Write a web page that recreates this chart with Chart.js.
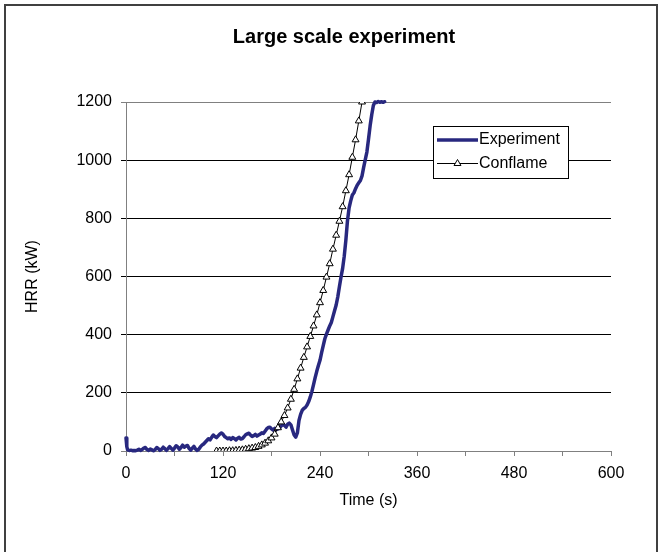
<!DOCTYPE html>
<html>
<head>
<meta charset="utf-8">
<script src="https://cdn.jsdelivr.net/npm/chart.js@4.4.1/dist/chart.umd.min.js"></script>
<style>
  html, body { margin: 0; padding: 0; background: #ffffff; }
  #wrap { position: relative; width: 663px; height: 552px; }
  canvas { display: block; }
</style>
</head>
<body>
<div id="wrap"><canvas id="c" width="663" height="552"></canvas></div>
<script>
// ---- Data ----
const chartTitle = "Large scale experiment";
const xAxisTitle = "Time (s)";
const yAxisTitle = "HRR (kW)";
const seriesNames = ["Experiment", "Conflame"];

const xTickLabels = [0, 120, 240, 360, 480, 600];
const yTickLabels = [0, 200, 400, 600, 800, 1000, 1200];

const expTime = [0,1,2,4,6,8,10,12,14,16,18,20,22,24,26,28,30,32,34,36,38,40,42,44,46,48,50,52,54,56,58,60,62,64,66,68,70,72,74,76,78,80,82,84,86,88,90,92,94,96,98,100,102,104,106,108,110,112,114,116,118,120,122,124,126,128,130,132,134,136,138,140,142,144,146,148,150,152,154,156,158,160,162,164,166,168,170,172,174,176,178,180,182,184,186,188,190,192,194,196,198,200,202,204,206,208,210,212,214,216,218,220,222,224,226,228,230,232,234,236,238,240,242,244,246,248,250,252,254,256,258,260,262,264,266,268,270,272,274,276,278,280,282,284,286,288,290,292,294,296,298,300,302,304,306,308,310,312,314,316,318,320];
const expHRR  = [45,15,4,2,3,1,2,1,3,6,2,5,10,12,5,2,7,4,1,5,12,8,2,6,13,8,2,8,15,9,3,10,18,14,6,12,20,13,17,19,9,3,10,16,7,2,6,14,20,24,30,36,42,38,47,55,50,46,52,58,62,58,50,46,42,45,40,46,43,38,44,47,41,43,49,56,59,61,55,50,53,57,51,55,58,63,60,68,76,81,82,76,72,78,74,76,79,86,91,88,82,92,96,90,72,55,48,62,105,126,140,146,150,158,170,186,205,228,252,274,294,312,338,362,386,402,416,430,442,462,482,502,530,565,598,628,670,725,792,836,860,880,888,902,914,922,930,946,975,1002,1028,1072,1118,1156,1188,1200,1198,1202,1199,1201,1199,1201];

const conTime = [112,116,120,124,128,132,136,140,144,148,152,156,160,164,168,172,176,180,184,188,192,196,200,204,208,212,216,220,224,228,232,236,240,244,248,252,256,260,264,268,272,276,280,284,288,292];
const conHRR  = [0,0,0,0,1,1,2,3,4,6,8,10,12,16,21,27,35,45,58,80,100,122,148,178,212,248,285,322,358,394,430,468,510,552,598,644,694,742,790,840,895,950,1010,1070,1135,1200];

// ---- Styles ----
const FONT = "'Liberation Sans', Arial, Helvetica, sans-serif";
const NAVY = "#28287f";
const AXIS_GRAY = "#808080";

const toPoints = (xs, ys) => xs.map((x, i) => ({ x: x, y: ys[i] }));

const framePlugin = {
  id: 'frame',
  beforeDraw(chart) {
    const ctx = chart.ctx;
    ctx.save();
    ctx.fillStyle = '#ffffff';
    ctx.fillRect(0, 0, chart.width, chart.height);
    ctx.restore();
  },
  afterDraw(chart) {
    const ctx = chart.ctx;
    ctx.save();
    ctx.strokeStyle = '#404040';
    ctx.lineWidth = 2;
    ctx.strokeRect(5, 5, 652, 560);
    // title
    ctx.fillStyle = '#000';
    ctx.font = 'bold 20px ' + FONT;
    ctx.textAlign = 'center';
    ctx.textBaseline = 'middle';
    ctx.fillText(chartTitle, 344, 37);
    ctx.restore();
  }
};

const legendPlugin = {
  id: 'boxLegend',
  afterDatasetsDraw(chart) {
    const ctx = chart.ctx;
    const area = chart.chartArea;
    const bx = area.right - 178, by = area.top + 24, bw = 135, bh = 52;
    ctx.save();
    ctx.fillStyle = '#fff';
    ctx.fillRect(bx, by, bw, bh);
    ctx.strokeStyle = '#000';
    ctx.lineWidth = 1;
    ctx.strokeRect(bx + 0.5, by + 0.5, bw, bh);
    const rows = [by + 14, by + 37.5];
    ctx.strokeStyle = NAVY; ctx.lineWidth = 3.5;
    ctx.beginPath(); ctx.moveTo(bx + 4, rows[0]); ctx.lineTo(bx + 45, rows[0]); ctx.stroke();
    ctx.strokeStyle = '#000'; ctx.lineWidth = 1;
    ctx.beginPath(); ctx.moveTo(bx + 4, rows[1]); ctx.lineTo(bx + 45, rows[1]); ctx.stroke();
    ctx.fillStyle = '#fff';
    Chart.helpers.drawPoint(ctx, { pointStyle: 'triangle', radius: 4, borderWidth: 1 }, bx + 24.5, rows[1]);
    ctx.fillStyle = '#000';
    ctx.font = '16px ' + FONT;
    ctx.textAlign = 'left';
    ctx.textBaseline = 'middle';
    ctx.fillText(seriesNames[0], bx + 46, rows[0]);
    ctx.fillText(seriesNames[1], bx + 46, rows[1]);
    ctx.restore();
  }
};

Chart.defaults.font.family = FONT;
Chart.defaults.font.size = 16;
Chart.defaults.color = '#000';

new Chart(document.getElementById('c'), {
  type: 'line',
  data: {
    datasets: [
      {
        label: seriesNames[0],
        data: toPoints(expTime, expHRR),
        borderColor: NAVY,
        borderWidth: 3.5,
        pointRadius: 0,
        tension: 0,
        borderJoinStyle: 'round',
        borderCapStyle: 'round',
        clip: 3,
        order: 1
      },
      {
        label: seriesNames[1],
        data: toPoints(conTime, conHRR),
        borderColor: '#000',
        borderWidth: 1,
        pointStyle: 'triangle',
        pointRadius: 4,
        pointBackgroundColor: '#fff',
        pointBorderColor: '#000',
        pointBorderWidth: 1,
        tension: 0,
        order: 0
      }
    ]
  },
  options: {
    responsive: false,
    animation: false,
    devicePixelRatio: 1,
    layout: { padding: { left: 0, right: 52, top: 102, bottom: 41 } },
    plugins: {
      legend: { display: false },
      title: { display: false },
      tooltip: { enabled: false }
    },
    scales: {
      x: {
        type: 'linear',
        min: 0,
        max: 600,
        afterBuildTicks(scale) {
          const t = [];
          for (let i = 0; i < xTickLabels.length; i++) {
            t.push({ value: xTickLabels[i] });
            if (i < xTickLabels.length - 1) t.push({ value: (xTickLabels[i] + xTickLabels[i + 1]) / 2 });
          }
          scale.ticks = t;
        },
        ticks: {
          autoSkip: false,
          maxRotation: 0,
          padding: 8,
          font: { size: 16 },
          callback: (v) => (xTickLabels.includes(v) ? String(v) : '')
        },
        grid: {
          drawOnChartArea: false,
          drawTicks: true,
          tickLength: 5,
          color: AXIS_GRAY
        },
        border: { color: AXIS_GRAY, width: 1 },
        title: { display: true, text: xAxisTitle, font: { size: 16 }, padding: { top: 4, bottom: 1 } },
        afterFit(scale) { scale.height = 60; }
      },
      y: {
        type: 'linear',
        min: 0,
        max: 1200,
        afterBuildTicks(scale) { scale.ticks = yTickLabels.map(v => ({ value: v })); },
        ticks: { padding: 9, font: { size: 16 }, callback: (v) => String(v) },
        grid: {
          drawTicks: true,
          tickLength: 5,
          color: (c) => (c.tick && (c.tick.value === 1200 || c.tick.value === 0)) ? AXIS_GRAY : '#000'
        },
        border: { color: AXIS_GRAY, width: 1 },
        title: { display: true, text: yAxisTitle, font: { size: 16 }, padding: { top: 23, bottom: 0 } },
        afterFit(scale) { scale.width = 126; }
      }
    }
  },
  plugins: [framePlugin, legendPlugin]
});
</script>
</body>
</html>
